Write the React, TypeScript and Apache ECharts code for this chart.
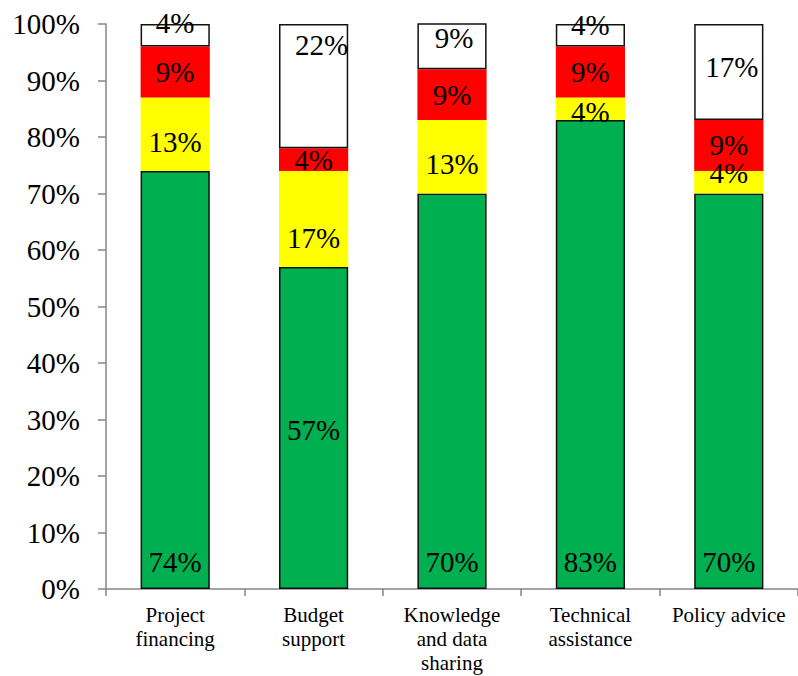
import React, { useEffect, useRef } from "react";
import * as echarts from "echarts";

const categories = [
  "Project\nfinancing",
  "Budget\nsupport",
  "Knowledge\nand data\nsharing",
  "Technical\nassistance",
  "Policy advice",
];
const greenValues = [74, 57, 70, 83, 70];
const yellowValues = [13, 17, 13, 4, 4];
const redValues = [9, 4, 9, 9, 9];
const whiteValues = [4, 22, 9, 4, 17];
const yTicks = [0, 10, 20, 30, 40, 50, 60, 70, 80, 90, 100];

// label placement tweaks (styling only)
const greenLabelPos = ["insideBottom", "inside", "insideBottom", "insideBottom", "insideBottom"];
const greenLabelOffset = [[0, 0], [0, 2], [0, 0], [0, 0], [0, 0]];
const yellowLabelOffset = [[0, 8], [0, 19], [0, 7], [0, 3], [0, -9]];
const redLabelOffset = [[0, 0], [0, 0], [0, 0], [0, 0], [0, 0]];
const whiteLabelOffset = [[0, -12], [8, -41], [2, -8], [0, -10], [3, -5]];

const FONT = "'Liberation Serif', 'DejaVu Serif', serif";

export default function App() {
  const ref = useRef<HTMLDivElement>(null);
  useEffect(() => {
    document.body.style.margin = "0";
    if (!ref.current) return;
    const chart = echarts.init(ref.current, null, { renderer: "svg" });
    const labelBase = {
      show: true,
      color: "#000",
      fontFamily: FONT,
      fontSize: 29,
      formatter: (p: any) => `${p.value}%`,
    };
    const mk = (
      name: string,
      values: number[],
      color: string,
      border: boolean,
      offsets: number[][],
      positions?: string[]
    ) => ({
      name,
      type: "bar",
      stack: "total",
      barWidth: "50%",
      itemStyle: border
        ? { color, borderColor: "#111", borderWidth: 1.5 }
        : { color, borderWidth: 0 },
      data: values.map((v, i) => ({
        value: v,
        label: {
          ...labelBase,
          position: positions ? positions[i] : "inside",
          distance: 13,
          offset: offsets[i],
        },
      })),
      label: labelBase,
    });
    chart.setOption({
      animation: false,
      grid: { left: 106, top: 24, width: 695, height: 565 },
      xAxis: {
        type: "category",
        data: categories,
        axisLine: { lineStyle: { color: "#868686", width: 1.5 } },
        axisTick: { show: true, length: 7, lineStyle: { color: "#868686", width: 1.5 } },
        axisLabel: {
          interval: 0,
          color: "#000",
          fontFamily: FONT,
          fontSize: 21,
          lineHeight: 24,
          margin: 14,
        },
      },
      yAxis: {
        type: "value",
        min: yTicks[0],
        max: yTicks[yTicks.length - 1],
        interval: 10,
        splitLine: { show: false },
        axisLine: { show: true, lineStyle: { color: "#868686", width: 1.5 } },
        axisTick: { show: true, length: 8, lineStyle: { color: "#868686", width: 1.5 } },
        axisLabel: {
          color: "#000",
          fontFamily: FONT,
          fontSize: 29,
          margin: 26,
          formatter: (v: number) => `${v}%`,
        },
      },
      series: [
        mk("green", greenValues, "#00B050", true, greenLabelOffset, greenLabelPos),
        mk("yellow", yellowValues, "#FFFF00", false, yellowLabelOffset),
        mk("red", redValues, "#FF0000", false, redLabelOffset),
        mk("white", whiteValues, "#FFFFFF", true, whiteLabelOffset),
      ],
    });
    return () => chart.dispose();
  }, []);
  return <div ref={ref} style={{ width: 798, height: 676 }} />;
}
